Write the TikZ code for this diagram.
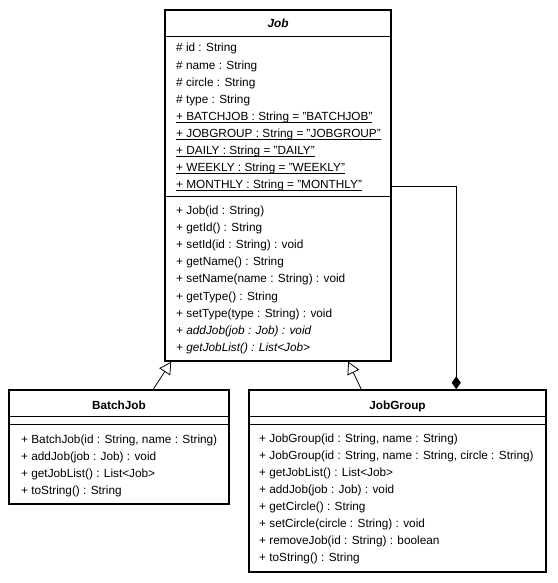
\documentclass[tikz,border=0pt]{standalone}
\usepackage{fontspec}
\setmainfont{Liberation Sans}
\usetikzlibrary{arrows.meta}

\newcommand{\statmember}[1]{\setbox0\hbox{#1}\rlap{\rule[-1.8pt]{\wd0}{0.7pt}}\box0}

\tikzset{
    classbox/.style={draw, line width=1.5pt, rectangle, inner sep=0pt},
    sep/.style={line width=0.8pt},
    member/.style={anchor=base west, inner sep=0pt, font=\fontsize{11.8pt}{14pt}\selectfont},
    classname/.style={anchor=base, inner sep=0pt, font=\fontsize{11.8pt}{14pt}\selectfont\bfseries},
    inherit/.style={line width=0.8pt, -{Triangle[open, length=12pt, width=13pt]}},
    compose/.style={line width=0.8pt, -{Diamond[length=13pt, width=9pt]}}
}

\begin{document}
\begin{tikzpicture}[x=1pt, y=-1pt]
    \useasboundingbox (0,0) rectangle (557,583);

    % boxes
    \node[classbox, minimum width=226pt, minimum height=351pt] (job) at (278,185.5) {};
    \node[classbox, minimum width=220pt, minimum height=114pt] (batchjob) at (119,447) {};
    \node[classbox, minimum width=297pt, minimum height=182pt] (jobgroup) at (397.5,481) {};

    \draw[sep] (job.west |- 0,36) -- (job.east |- 0,36);
    \draw[sep] (job.west |- 0,196) -- (job.east |- 0,196);
    \draw[sep] (batchjob.west |- 0,416) -- (batchjob.east |- 0,416);
    \draw[sep] (batchjob.west |- 0,424) -- (batchjob.east |- 0,424);
    \draw[sep] (jobgroup.west |- 0,416) -- (jobgroup.east |- 0,416);
    \draw[sep] (jobgroup.west |- 0,424) -- (jobgroup.east |- 0,424);

    % Job
    \node[classname] (job-name) at (278,27.5) {\itshape Job};
    \node[member] (job-a1) at (176,52) {\# id : String};
    \node[member] (job-a2) at (176,69.1) {\# name : String};
    \node[member] (job-a3) at (176,86.2) {\# circle : String};
    \node[member] (job-a4) at (176,103.3) {\# type : String};
    \node[member] (job-a5) at (176,120.4) {\statmember{+ BATCHJOB : String = "BATCHJOB"}};
    \node[member] (job-a6) at (176,137.5) {\statmember{+ JOBGROUP : String = "JOBGROUP"}};
    \node[member] (job-a7) at (176,154.6) {\statmember{+ DAILY : String = "DAILY"}};
    \node[member] (job-a8) at (176,171.7) {\statmember{+ WEEKLY : String = "WEEKLY"}};
    \node[member] (job-a9) at (176,188.8) {\statmember{+ MONTHLY : String = "MONTHLY"}};
    \node[member] (job-m1) at (176,214) {+ Job(id : String)};
    \node[member] (job-m2) at (176,231.2) {+ getId() : String};
    \node[member] (job-m3) at (176,248.4) {+ setId(id : String) : void};
    \node[member] (job-m4) at (176,265.6) {+ getName() : String};
    \node[member] (job-m5) at (176,282.8) {+ setName(name : String) : void};
    \node[member] (job-m6) at (176,300) {+ getType() : String};
    \node[member] (job-m7) at (176,317.2) {+ setType(type : String) : void};
    \node[member] (job-m8) at (176,334.4) {\itshape + addJob(job : Job) : void};
    \node[member] (job-m9) at (176,351.6) {\itshape + getJobList() : List<Job>};

    % BatchJob
    \node[classname] (batchjob-name) at (119,409) {BatchJob};
    \node[member] (batchjob-m1) at (21,443) {+ BatchJob(id : String, name : String)};
    \node[member] (batchjob-m2) at (21,460) {+ addJob(job : Job) : void};
    \node[member] (batchjob-m3) at (21,477) {+ getJobList() : List<Job>};
    \node[member] (batchjob-m4) at (21,494) {+ toString() : String};

    % JobGroup
    \node[classname] (jobgroup-name) at (397.5,409) {JobGroup};
    \node[member] (jobgroup-m1) at (259,442) {+ JobGroup(id : String, name : String)};
    \node[member] (jobgroup-m2) at (259,459) {+ JobGroup(id : String, name : String, circle : String)};
    \node[member] (jobgroup-m3) at (259,476) {+ getJobList() : List<Job>};
    \node[member] (jobgroup-m4) at (259,493) {+ addJob(job : Job) : void};
    \node[member] (jobgroup-m5) at (259,510) {+ getCircle() : String};
    \node[member] (jobgroup-m6) at (259,527) {+ setCircle(circle : String) : void};
    \node[member] (jobgroup-m7) at (259,544) {+ removeJob(id : String) : boolean};
    \node[member] (jobgroup-m8) at (259,561) {+ toString() : String};

    % relations
    \coordinate (batchjob-up) at ([xshift=145pt]batchjob.north west);
    \coordinate (job-down1) at ([xshift=7pt]job.south west);
    \coordinate (jobgroup-up) at ([xshift=113pt]jobgroup.north west);
    \coordinate (job-down2) at ([xshift=184pt]job.south west);
    \coordinate (job-part) at (job.east |- 0,186);
    \coordinate (jobgroup-whole) at ([xshift=208pt]jobgroup.north west);

    \draw[inherit] (batchjob-up) -- (job-down1);
    \draw[inherit] (jobgroup-up) -- (job-down2);
    \draw[compose] (job-part) -| (jobgroup-whole);
\end{tikzpicture}
\end{document}
